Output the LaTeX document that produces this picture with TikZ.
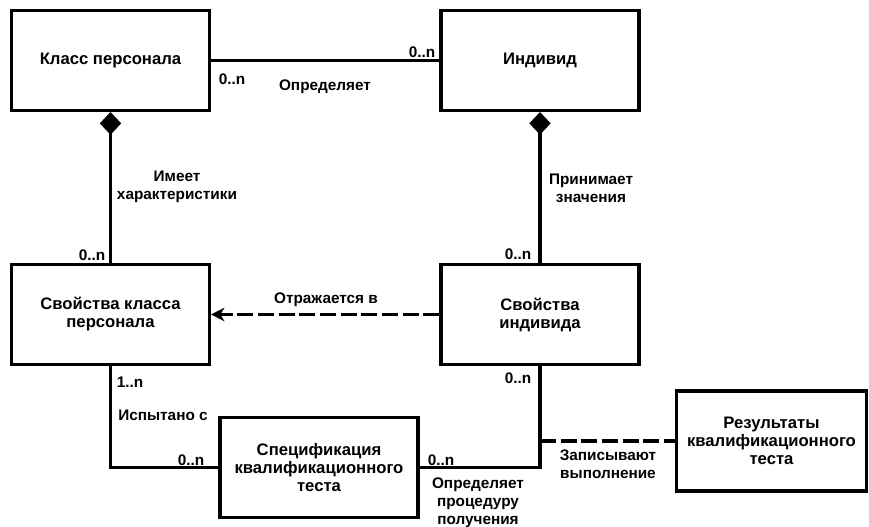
\documentclass[tikz,border=0pt]{standalone}
\usepackage{fontspec}
\setmainfont{Liberation Sans}
\usetikzlibrary{arrows.meta}
\tikzset{
 entity/.style={draw, line width=2.3pt, minimum width=148.5pt, minimum height=75pt,
   align=center, inner sep=2pt, font=\bfseries\fontsize{12.5}{13.5}\selectfont},
 lbl/.style={align=center, inner sep=0pt, font=\bfseries\fontsize{11.5}{13.5}\selectfont},
 link/.style={line width=2.3pt},
 dashlink/.style={line width=2.3pt, dash pattern=on 12pt off 3.5pt},
 comp/.style={{Diamond[length=17pt,width=16pt]}-},
}

\begin{document}
\begin{tikzpicture}[x=0.75pt, y=-0.75pt]
\useasboundingbox (0,0) rectangle (869,527);
% entities
\node[entity] (klass) at (110.5,60.5) {Класс персонала};
\node[entity] (indiv) at (540,60.5) {Индивид};
\node[entity] (svklass) at (110.5,314.5) {Свойства класса\\персонала};
\node[entity] (svindiv) at (540,314.5) {Свойства\\индивида};
\node[entity] (spec) at (319,467.5) {Спецификация\\квалификационного\\теста};
\node[entity, minimum width=143pt] (rezult) at (771.5,441) {Результаты\\квалификационного\\теста};

% relations
\draw[link] (klass.east) -- (indiv.west);
\draw[link, comp] (klass.south) -- (svklass.north);
\draw[link, comp] (indiv.south) -- (svindiv.north);
\draw[dashlink, -{Stealth[length=10pt,width=10pt,inset=3pt]}] (svindiv.west) -- (svklass.east);
\draw[link] (svklass.south) |- (spec.west);
\draw[link] (spec.east) -| (svindiv.south);
\coordinate (zapis) at (svindiv.south |- rezult.west);
\draw[dashlink] (zapis) -- (rezult.west);

% role names
\node[lbl] (opr) at (325,87) {Определяет};
\node[lbl] (imeet) at (177,187) {Имеет\\характеристики};
\node[lbl] (prin) at (591,188) {Принимает\\значения};
\node[lbl] (otr) at (326,300) {Отражается в};
\node[lbl] (isp) at (163,415) {Испытано с};
\node[lbl] (oprproc) at (478,503) {Определяет\\процедуру\\получения};
\node[lbl] (zap) at (608,464) {Записывают\\выполнение};

% multiplicities
\foreach \nm/\px/\py/\txt in {ca/232/79/0..n, cb/422/52/0..n, cc/92/255/0..n,
  cd/518/254/0..n, ce/518/378/0..n, cf/130/382/1..n, cg/191/460/0..n, ch/441/460/0..n}
 \node[lbl] (\nm) at (\px,\py) {\txt};
\end{tikzpicture}
\end{document}
